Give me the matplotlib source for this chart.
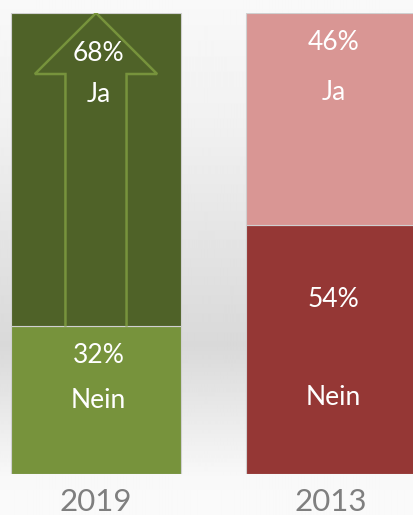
import numpy as np
import matplotlib
matplotlib.use("Agg")
import matplotlib.pyplot as plt
from matplotlib.patches import Polygon

# ---- data ----
years = ["2019", "2013"]
ja = [68, 46]
nein = [32, 54]
ja_label = "Ja"
nein_label = "Nein"

ja_colors = ["#4f6228", "#d99694"]
nein_colors = ["#77933c", "#953735"]

W, H = 414, 515
fig = plt.figure(figsize=(W / 100, H / 100), dpi=100)

# background gradient
bg = fig.add_axes([0, 0, 1, 1], zorder=0)
ys = np.arange(H)
stops_y = [0, 120, 345, 440, 478, 515]
stops_v = [0.975, 0.945, 0.85, 0.94, 0.975, 0.98]
vals = np.interp(ys, stops_y, stops_v)
img = np.repeat(vals[:, None], 2, axis=1)
bg.imshow(img, cmap="gray", vmin=0, vmax=1, aspect="auto",
          extent=[0, 1, 1, 0], interpolation="bilinear")
bg.set_xlim(0, 1)
bg.set_ylim(1, 0)
bg.axis("off")

# main axes in "percent" coordinates
bot_px, top_px = 474, 13
ax = fig.add_axes([0, (H - bot_px) / H, 1, (bot_px - top_px) / H], zorder=1)
ax.patch.set_alpha(0)
ax.set_xlim(-96 / 235, 1 + 83 / 235)
ax.set_ylim(0, 100)
for s in ax.spines.values():
    s.set_visible(False)

x = np.arange(len(years))
bw = 170 / 235
ax.bar(x, nein, width=bw, color=nein_colors, edgecolor="#d0d0d0", linewidth=0.8, zorder=2)
ax.bar(x, ja, bottom=nein, width=bw, color=ja_colors, edgecolor="#d0d0d0", linewidth=0.8, zorder=2)

# arrow outline on 2019 Ja segment
px2d = 100 / (bot_px - top_px)
head_hw, shaft_hw = 0.26, 0.13
head_base = 100 - (74 - top_px) * px2d
arrow = Polygon([(-shaft_hw, nein[0]), (-shaft_hw, head_base), (-head_hw, head_base),
                 (0, 100), (head_hw, head_base), (shaft_hw, head_base),
                 (shaft_hw, nein[0])], closed=False, fill=False,
                edgecolor="#77933c", linewidth=1.8, zorder=3)
ax.add_patch(arrow)

font = "Lato"
fs = 19
# label offsets (pixels below segment top): (percent, name)
ja_offsets = [(41, 81), (30, 80)]
nein_offsets = [(29, 74), (74, 172)]
for i in range(len(years)):
    top_ja = 100
    for off, txt in zip(ja_offsets[i], [f"{ja[i]}%", ja_label]):
        ax.text(x[i] + 0.01, top_ja - off * px2d, txt, ha="center", va="center",
                color="white", fontsize=fs, family=font, zorder=4)
    top_n = nein[i]
    for off, txt in zip(nein_offsets[i], [f"{nein[i]}%", nein_label]):
        ax.text(x[i] + 0.01, top_n - off * px2d, txt, ha="center", va="center",
                color="white", fontsize=fs, family=font, zorder=4)

ax.set_yticks([])
ax.set_xticks(x)
ax.set_xticklabels(years, fontsize=22.5, color="#7f7f7f", family=font)
ax.tick_params(axis="x", length=0, pad=10)

fig.savefig("out.png", dpi=100)
